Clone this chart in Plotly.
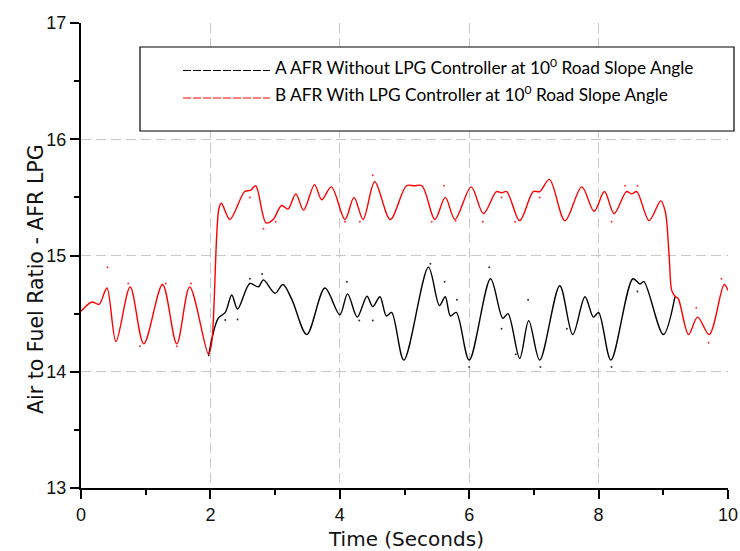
import plotly.graph_objects as go

# Series B: AFR with LPG controller (time s, AFR)
red_t = [0.00, 0.17, 0.28, 0.40, 0.54, 0.76, 0.97, 1.26, 1.48, 1.68, 1.97, 2.02, 2.13, 2.17,
         2.30, 2.53, 2.62, 2.70, 2.86, 2.97, 3.10, 3.20, 3.32, 3.44, 3.61, 3.72, 3.87, 4.08,
         4.22, 4.36, 4.54, 4.78, 5.03, 5.15, 5.27, 5.47, 5.63, 5.78, 6.03, 6.22, 6.42, 6.50,
         6.58, 6.78, 6.99, 7.09, 7.24, 7.48, 7.74, 7.93, 8.09, 8.24, 8.43, 8.51, 8.59, 8.78,
         8.96, 9.03, 9.09, 9.13, 9.18, 9.23, 9.39, 9.53, 9.71, 9.94, 10.00]
red_v = [14.52, 14.60, 14.58, 14.72, 14.26, 14.73, 14.24, 14.75, 14.24, 14.73, 14.15, 14.25, 15.40, 15.45,
         15.31, 15.55, 15.56, 15.60, 15.28, 15.31, 15.43, 15.40, 15.53, 15.39, 15.61, 15.48, 15.59, 15.31,
         15.50, 15.31, 15.635, 15.31, 15.60, 15.60, 15.60, 15.31, 15.50, 15.31, 15.59, 15.36, 15.55, 15.54,
         15.55, 15.30, 15.55, 15.55, 15.655, 15.30, 15.59, 15.38, 15.55, 15.36, 15.55, 15.53, 15.55, 15.30,
         15.47, 15.38, 15.00, 14.70, 14.65, 14.63, 14.32, 14.47, 14.32, 14.75, 14.70]

# Series A: AFR without LPG controller
blk_t = [1.97, 2.12, 2.23, 2.33, 2.42, 2.61, 2.74, 2.82, 3.00, 3.12, 3.26, 3.49, 3.77, 4.00,
         4.12, 4.27, 4.42, 4.51, 4.62, 4.72, 4.80, 4.99, 5.37, 5.54, 5.63, 5.71, 5.80, 6.00,
         6.33, 6.52, 6.60, 6.78, 6.92, 7.09, 7.40, 7.60, 7.79, 7.92, 8.00, 8.19, 8.53, 8.64,
         8.70, 9.00, 9.18]
blk_v = [14.135, 14.46, 14.51, 14.66, 14.54, 14.76, 14.73, 14.79, 14.675, 14.75, 14.62, 14.32, 14.72, 14.49,
         14.67, 14.47, 14.65, 14.56, 14.645, 14.48, 14.51, 14.10, 14.90, 14.57, 14.645, 14.48, 14.51, 14.10,
         14.80, 14.46, 14.50, 14.115, 14.44, 14.10, 14.74, 14.32, 14.645, 14.47, 14.51, 14.10, 14.80, 14.755,
         14.775, 14.32, 14.645]

# Raw samples scattered around the smoothed curves
red_dot_t = [0.41, 0.73, 0.91, 1.31, 1.48, 1.70, 2.61, 2.82, 3.01, 4.08, 4.31, 4.51, 5.42, 5.61, 5.79,
             6.21, 6.50, 6.71, 7.09, 8.20, 8.41, 8.60, 9.51, 9.70, 9.90]
red_dot_v = [14.90, 14.76, 14.22, 14.76, 14.22, 14.76, 15.50, 15.23, 15.29, 15.29, 15.29, 15.69, 15.29, 15.60, 15.30,
             15.29, 15.50, 15.29, 15.50, 15.29, 15.60, 15.60, 14.55, 14.25, 14.80]
blk_dot_t = [2.23, 2.42, 2.61, 2.80, 4.11, 4.30, 4.51, 5.40, 5.62, 5.81, 6.00, 6.31, 6.50, 6.72, 6.91,
             7.10, 7.51, 8.20, 8.60]
blk_dot_v = [14.445, 14.45, 14.80, 14.84, 14.775, 14.44, 14.44, 14.93, 14.775, 14.62, 14.04, 14.90, 14.37, 14.15, 14.62,
             14.04, 14.37, 14.04, 14.69]

legend_labels = ["A AFR Without LPG Controller at 10<sup>0</sup> Road Slope Angle",
                 "B AFR With LPG Controller at 10<sup>0</sup> Road Slope Angle"]
legend_colors = ["#000000", "#ff0000"]

W, H = 740, 551
L, R, T, B = 81, 12, 23, 63
pw, ph = W - L - R, H - T - B


def px(x):
    return (x - L) / pw


def py(y):
    return (H - B - y) / ph


fig = go.Figure()
fig.add_trace(go.Scatter(x=blk_t, y=blk_v, mode="lines",
                         line=dict(color="#000000", width=1.4, shape="spline", smoothing=0.9),
                         showlegend=False))
fig.add_trace(go.Scatter(x=blk_dot_t, y=blk_dot_v, mode="markers",
                         marker=dict(color="#333333", size=2), showlegend=False))
fig.add_trace(go.Scatter(x=red_t, y=red_v, mode="lines",
                         line=dict(color="#ff0000", width=1.4, shape="spline", smoothing=0.9),
                         showlegend=False))
fig.add_trace(go.Scatter(x=red_dot_t, y=red_dot_v, mode="markers",
                         marker=dict(color="#ff3333", size=2), showlegend=False))

font_ax = "Liberation Sans, Arial, sans-serif"
font_title = "DejaVu Sans, Verdana, sans-serif"
grid_col = "#c8c8c8"

fig.update_layout(
    width=W, height=H,
    margin=dict(l=L, r=R, t=T, b=B, autoexpand=False),
    paper_bgcolor="white", plot_bgcolor="white",
    font=dict(family=font_ax, color="#111111"),
    xaxis=dict(range=[0, 10], tickvals=[0, 2, 4, 6, 8, 10], showgrid=True, automargin=False,
               gridcolor=grid_col, griddash="10px,5px", gridwidth=1,
               showline=True, linecolor="black", linewidth=2,
               ticks="outside", ticklen=9, tickwidth=2, tickcolor="black",
               minor=dict(tickvals=[1, 3, 5, 7, 9], ticks="outside", ticklen=5, tickwidth=2,
                          tickcolor="black", showgrid=False),
               tickfont=dict(size=18, family=font_ax), zeroline=False),
    yaxis=dict(range=[13, 17], tickvals=[13, 14, 15, 16, 17], showgrid=True, automargin=False,
               gridcolor=grid_col, griddash="10px,5px", gridwidth=1,
               showline=True, linecolor="black", linewidth=2,
               ticks="outside", ticklen=9, tickwidth=2, tickcolor="black",
               minor=dict(tickvals=[13.5, 14.5, 15.5, 16.5], ticks="outside", ticklen=5,
                          tickwidth=2, tickcolor="black", showgrid=False),
               tickfont=dict(size=18, family=font_ax), zeroline=False),
)

annotations = [
    dict(text="Time (Seconds)", x=px(406), y=py(539), xref="paper", yref="paper",
         showarrow=False, font=dict(size=20, family=font_title), xanchor="center", yanchor="middle"),
    dict(text="Air to Fuel Ratio - AFR LPG", x=px(36), y=py(279), xref="paper", yref="paper",
         showarrow=False, textangle=-90, font=dict(size=20.5, family=font_title),
         xanchor="center", yanchor="middle"),
]
shapes = [
    dict(type="rect", xref="paper", yref="paper", x0=px(140), x1=px(734), y0=py(47), y1=py(131),
         line=dict(color="black", width=1.2), fillcolor="white", layer="above"),
]
for i, (lab, col) in enumerate(zip(legend_labels, legend_colors)):
    ty = 66.5 + i * 27
    ly = 70.5 + i * 27.5
    shapes.append(dict(type="line", xref="paper", yref="paper", x0=px(183), x1=px(270),
                       y0=py(ly), y1=py(ly), line=dict(color=col, width=1, dash="8px,2px"),
                       layer="above"))
    annotations.append(dict(text=lab, x=px(273), y=py(ty), xref="paper", yref="paper",
                            showarrow=False, xanchor="left", yanchor="middle",
                            font=dict(size=17.3, family="Lato, Liberation Sans, sans-serif",
                                      color="#000000")))

fig.update_layout(annotations=annotations, shapes=shapes)
fig.write_html("out.html")
